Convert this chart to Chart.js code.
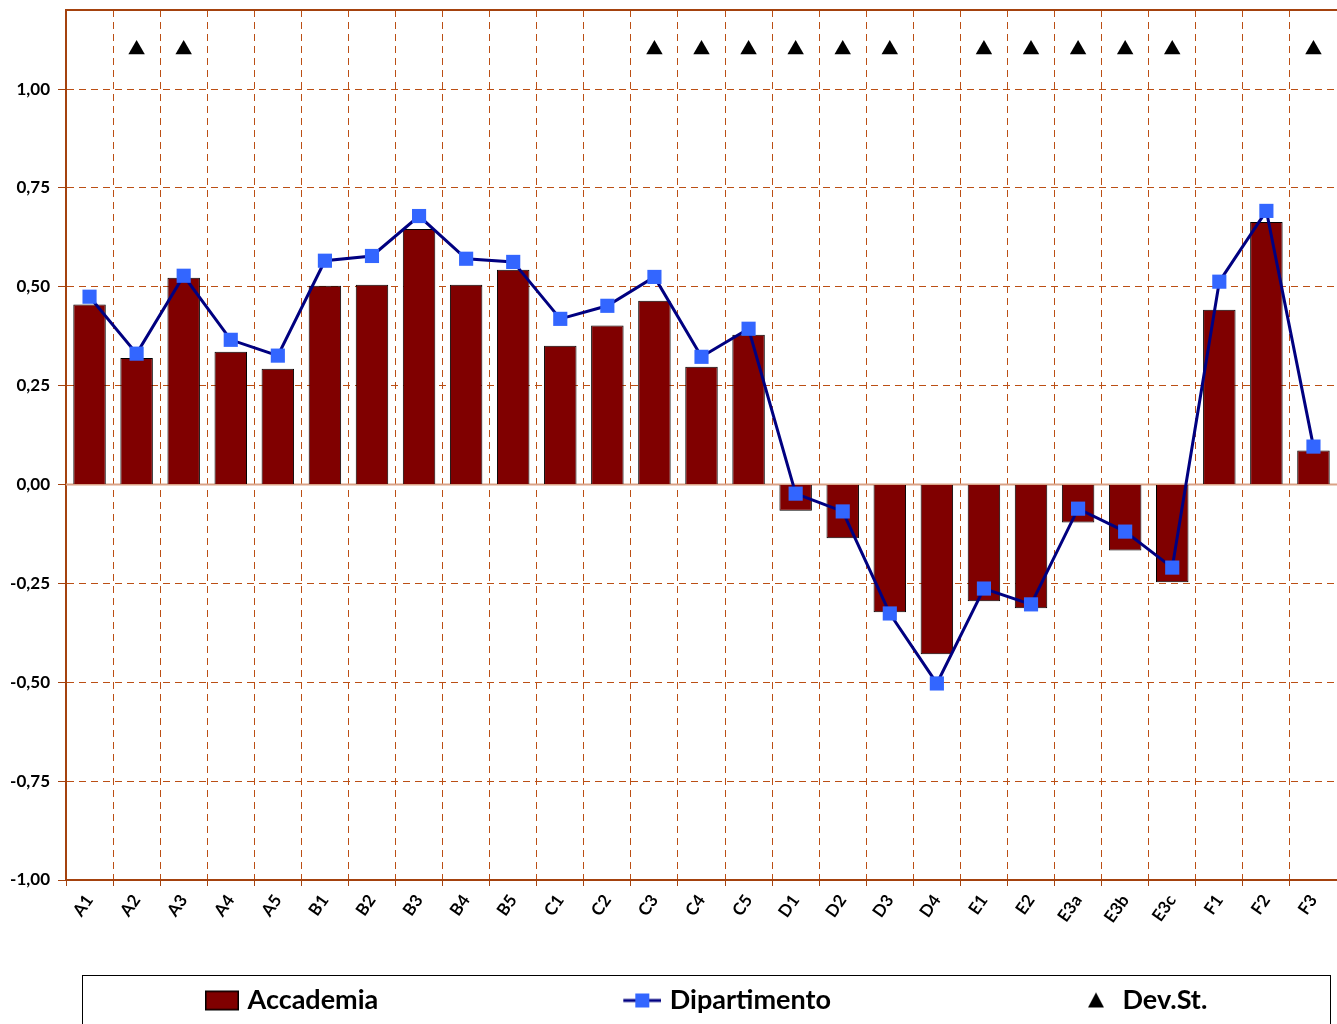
<!DOCTYPE html>
<html>
<head>
<meta charset="utf-8">
<script src="https://cdn.jsdelivr.net/npm/chart.js@4.4.1/dist/chart.umd.min.js"></script>
<style>
  html, body { margin: 0; padding: 0; background: #fff; overflow: hidden; }
  #wrap { width: 1337px; height: 1024px; }
</style>
</head>
<body>
<div id="wrap"><canvas id="grafico" width="1337" height="1024"></canvas></div>
<script>
// categorie (asse x)
var categorie = ['A1','A2','A3','A4','A5','B1','B2','B3','B4','B5','C1','C2','C3','C4','C5',
                 'D1','D2','D3','D4','E1','E2','E3a','E3b','E3c','F1','F2','F3'];

// serie
var accademia = [0.455, 0.32, 0.523, 0.336, 0.293, 0.503, 0.505, 0.646, 0.505, 0.543,
                 0.351, 0.402, 0.465, 0.298, 0.379,
                 -0.066, -0.136, -0.323, -0.429,
                 -0.295, -0.313, -0.096, -0.167, -0.247,
                 0.442, 0.664, 0.086];
var dipartimento = [0.475, 0.331, 0.528, 0.366, 0.326, 0.566, 0.578, 0.679, 0.571, 0.563,
                    0.419, 0.452, 0.525, 0.323, 0.394,
                    -0.023, -0.068, -0.326, -0.503,
                    -0.263, -0.303, -0.061, -0.119, -0.210,
                    0.513, 0.692, 0.096];
var devSt = [null, 1.1, 1.1, null, null, null, null, null, null, null,
             null, null, 1.1, 1.1, 1.1,
             1.1, 1.1, 1.1, null,
             1.1, 1.1, 1.1, 1.1, 1.1,
             null, null, 1.1];

// asse y
var yMin = -1, yMax = 1.2, yPasso = 0.25, yUltimaEtichetta = 1;

var COL_GRIGLIA = '#bb4f15';
var COL_ASSE = '#a4420e';
var FONT = 'Lato, "Open Sans", sans-serif';

// legenda: le icone sono larghe, con il simbolo allineato a destra,
// cosi' la distanza tra le voci e' quella dell'originale
var LARGH_ICONA = 266, PAD_LEGENDA = 12, INIZIO_LEGENDA = 205;

function icona(wSimbolo, h, disegna) {
  var c = document.createElement('canvas');
  c.width = LARGH_ICONA + 10; c.height = h;
  var g = c.getContext('2d');
  g.translate(c.width - wSimbolo, 0);
  disegna(g);
  return c;
}
var iconaAcc = icona(34, 22, function(g){
  g.fillStyle = '#800000'; g.fillRect(0, 1, 34, 20);
  g.strokeStyle = '#000'; g.lineWidth = 1.5; g.strokeRect(0.75, 1.75, 32.5, 18.5);
});
var iconaDip = icona(38, 22, function(g){
  g.strokeStyle = '#000080'; g.lineWidth = 3;
  g.beginPath(); g.moveTo(0, 11); g.lineTo(38, 11); g.stroke();
  g.fillStyle = '#3366ff'; g.fillRect(12, 4, 14, 14);
});
var iconaDev = icona(26, 22, function(g){
  g.fillStyle = '#000';
  g.beginPath(); g.moveTo(8, 3); g.lineTo(16, 18); g.lineTo(0, 18); g.closePath(); g.fill();
});
var icone = [iconaAcc, iconaDip, iconaDev];

var cornice = {
  id: 'cornice',
  afterLayout: function(chart) {
    // sposta la riga della legenda perche' cominci dove comincia nell'originale
    var lg = chart.legend, w = lg.right - lg.left, L = lg.lineWidths[0];
    var cursore = INIZIO_LEGENDA - (LARGH_ICONA + 5 - 34);
    var left = (2 * cursore - PAD_LEGENDA + L - w) / 2;
    lg.left = left; lg.right = left + w;
  },
  beforeDatasetsDraw: function(chart) {
    var ctx = chart.ctx, a = chart.chartArea, y0 = chart.scales.y.getPixelForValue(0);
    ctx.save();
    ctx.strokeStyle = '#d9a286'; ctx.lineWidth = 2;
    ctx.beginPath(); ctx.moveTo(a.left, y0); ctx.lineTo(a.right, y0); ctx.stroke();
    ctx.restore();
  },
  afterDraw: function(chart) {
    var ctx = chart.ctx, a = chart.chartArea;
    ctx.save();
    ctx.strokeStyle = COL_ASSE; ctx.lineWidth = 2;
    ctx.beginPath(); ctx.moveTo(a.left, a.top); ctx.lineTo(a.right, a.top); ctx.stroke();
    ctx.strokeStyle = '#000'; ctx.lineWidth = 1;
    ctx.strokeRect(82.5, 975.5, 1248, 80);
    ctx.restore();
  }
};

new Chart(document.getElementById('grafico'), {
  data: {
    labels: categorie,
    datasets: [
      {
        type: 'bar', label: 'Accademia', data: accademia, order: 2,
        backgroundColor: '#800000', borderColor: '#000', borderWidth: 1,
        categoryPercentage: 1, barPercentage: 0.69
      },
      {
        type: 'line', label: 'Dipartimento', data: dipartimento, order: 0,
        borderColor: '#000080', borderWidth: 3, tension: 0,
        pointStyle: 'rect', pointRadius: 10, pointBackgroundColor: '#3366ff',
        pointBorderColor: '#3366ff', pointBorderWidth: 0
      },
      {
        type: 'line', label: 'Dev.St.', data: devSt, order: 1, showLine: false,
        pointStyle: 'triangle', pointRadius: 9.5,
        pointBackgroundColor: '#000', pointBorderColor: '#000', pointBorderWidth: 0
      }
    ]
  },
  options: {
    responsive: false,
    animation: false,
    layout: { autoPadding: false, padding: { top: 10, left: 0, right: 0, bottom: 0 } },
    plugins: {
      tooltip: { enabled: false },
      legend: {
        position: 'bottom',
        labels: {
          usePointStyle: true,
          pointStyleWidth: LARGH_ICONA,
          padding: PAD_LEGENDA,
          color: '#000',
          font: { family: FONT, size: 27, weight: 'bold' },
          sort: function(a, b) { return a.datasetIndex - b.datasetIndex; },
          generateLabels: function(chart) {
            var it = Chart.defaults.plugins.legend.labels.generateLabels(chart);
            it.forEach(function(x){ x.pointStyle = icone[x.datasetIndex]; });
            return it;
          }
        }
      }
    },
    scales: {
      x: {
        offset: true,
        grid: { offset: true, color: COL_GRIGLIA, lineWidth: 1, tickLength: 6, tickColor: COL_ASSE },
        border: { color: COL_ASSE, width: 2, dash: [7, 5] },
        ticks: {
          color: '#000', maxRotation: 55, minRotation: 55, autoSkip: false, padding: 5,
          font: { family: FONT, size: 17, weight: 'bold' }
        },
        afterFit: function(s) {
          s.height = 95;
          s.paddingLeft = 0; s.paddingRight = 0;
        }
      },
      y: {
        min: yMin, max: yMax,
        grid: { color: COL_GRIGLIA, lineWidth: 1, tickLength: 8, tickColor: COL_ASSE },
        border: { color: COL_ASSE, width: 2, dash: [7, 5] },
        ticks: {
          stepSize: yPasso, color: '#000', padding: 8,
          font: { family: FONT, size: 17, weight: 'bold' },
          callback: function(v) { return v.toFixed(2).replace('.', ','); }
        },
        afterBuildTicks: function(s) {
          s.ticks = s.ticks.filter(function(t){ return t.value <= yUltimaEtichetta + 1e-6; });
        },
        afterFit: function(s) {
          s.width = 66;
          s.paddingTop = 0; s.paddingBottom = 0;
        }
      }
    }
  },
  plugins: [cornice]
});
</script>
</body>
</html>
